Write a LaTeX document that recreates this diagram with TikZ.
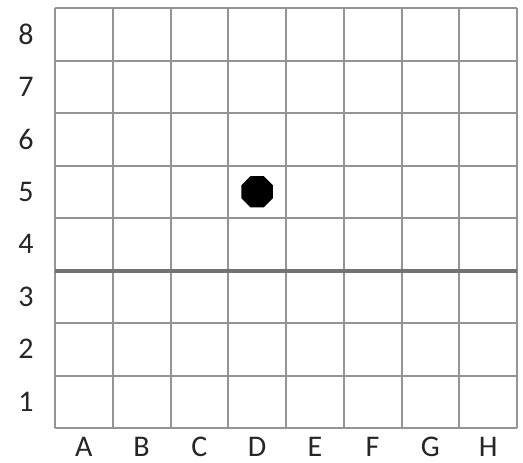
\documentclass[tikz,border=0pt]{standalone}
\usepackage{fontspec}
\setmainfont{Carlito}
\usetikzlibrary{shapes.geometric}
\begin{document}
\begin{tikzpicture}[x=1pt, y=-1pt,
    gridline/.style={draw=black!42, line width=2pt},
    midline/.style={draw=black!55, line width=4pt},
    coordlabel/.style={font=\fontsize{30}{32}\selectfont, text=black!85, inner sep=0pt},
    stone/.style={regular polygon, regular polygon sides=8, fill=black, minimum size=34pt, inner sep=0pt}]
    \useasboundingbox (0,0) rectangle (523,463);
    % grid lines
    \foreach \i in {0,...,8}
        \draw[gridline] ({55+\i*57.75},8) -- ({55+\i*57.75},428);
    \foreach \j in {0,1,2,3,4,6,7,8}
        \draw[gridline] (55,{8+\j*52.5}) -- (517,{8+\j*52.5});
    \draw[midline] (55,270.5) -- (517,270.5);
    % row and column labels
    \foreach \n [count=\j from 0] in {8,7,6,5,4,3,2,1}
        \node[coordlabel] (row\n) at (26,{8+(\j+0.5)*52.5}) {\n};
    \foreach \c [count=\i from 0] in {A,B,C,D,E,F,G,H}
        \node[coordlabel] (col\c) at ({55+(\i+0.5)*57.75},447) {\c};
    % the stone on D5
    \node[stone] (dfive) at ({55+3.5*57.75},{8+3.5*52.5}) {};
\end{tikzpicture}
\end{document}
